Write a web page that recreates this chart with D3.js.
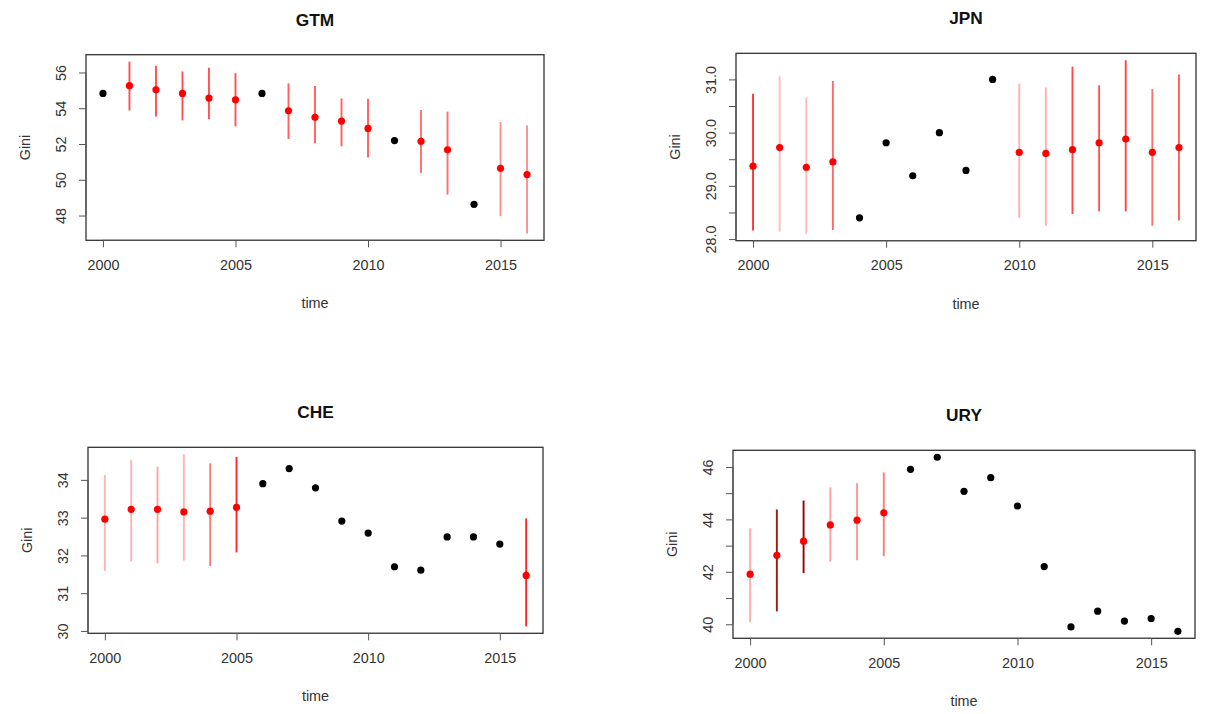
<!DOCTYPE html>
<html>
<head>
<meta charset="utf-8">
<script src="https://cdn.jsdelivr.net/npm/d3@7"></script>
<style>
  html, body { margin: 0; padding: 0; background: #fff; }
  svg { display: block; font-family: "Liberation Sans", Arial, sans-serif; }
</style>
</head>
<body>
<svg id="chart" width="1205" height="714"></svg>
<script>
// ---------------- DATA ----------------
const years = [2000,2001,2002,2003,2004,2005,2006,2007,2008,2009,2010,2011,2012,2013,2014,2015,2016];
const xTicks = [2000, 2005, 2010, 2015];

const gtmGini = [54.83,55.26,55.03,54.83,54.57,54.47,54.83,53.86,53.49,53.28,52.87,52.19,52.15,51.68,48.63,50.64,50.29];
const gtmLow  = [null,53.88,53.54,53.32,53.39,52.99,null,52.28,52.04,51.87,51.24,null,50.38,49.17,null,47.96,47.00];
const gtmHigh = [null,56.61,56.37,56.06,56.26,55.96,null,55.39,55.24,54.55,54.53,null,53.90,53.81,null,53.23,53.03];
const gtmTicks = [48,50,52,54,56];
const gtmTickLabels = ["48","50","52","54","56"];

const jpnGini = [29.37,29.72,29.35,29.45,28.40,29.81,29.19,30.00,29.29,31.00,29.63,29.61,29.68,29.81,29.88,29.63,29.72];
const jpnLow  = [28.16,28.14,28.10,28.17,null,null,null,null,null,null,28.40,28.25,28.47,28.52,28.52,28.25,28.35];
const jpnHigh = [30.73,31.06,30.66,30.97,null,null,null,null,null,null,30.92,30.85,31.24,30.89,31.36,30.82,31.09];
const jpnTicks = [28.0,28.5,29.0,29.5,30.0,30.5,31.0];
const jpnTickLabels = ["28.0","","29.0","","30.0","","31.0"];

const cheGini = [32.96,33.22,33.22,33.15,33.17,33.27,33.90,34.30,33.79,32.91,32.59,31.70,31.61,32.49,32.49,32.30,31.47];
const cheLow  = [31.59,31.84,31.79,31.86,31.72,32.08,null,null,null,null,null,null,null,null,null,null,30.12];
const cheHigh = [34.13,34.53,34.35,34.68,34.44,34.61,null,null,null,null,null,null,null,null,null,null,32.98];
const cheTicks = [30,31,32,33,34];
const cheTickLabels = ["30","31","32","33","34"];

const uryGini = [41.91,42.63,43.17,43.79,43.97,44.25,45.91,46.37,45.07,45.59,44.51,42.20,39.90,40.50,40.12,40.22,39.73];
const uryLow  = [40.08,40.49,41.95,42.39,42.44,42.60,null,null,null,null,null,null,null,null,null,null,null];
const uryHigh = [43.66,44.38,44.72,45.22,45.38,45.79,null,null,null,null,null,null,null,null,null,null,null];
const uryTicks = [40,41,42,43,44,45,46];
const uryTickLabels = ["40","","42","","44","","46"];

// ---------------- STYLE (kept apart from data) ----------------
const gtmBarColor = [null,"#ff5050","#ff5050","#ff5050","#ff5050","#ff5050",null,"#ff6060","#ff6060","#ff6060","#ff6060",null,"#ff6e6e","#ff6e6e",null,"#ff8f8f","#ff8f8f"];
const jpnBarColor = ["#ff3333","#ffbcbc","#ffbcbc","#ff6a6a",null,null,null,null,null,null,"#ffb0b0","#ffb0b0","#ff4a4a","#ff5555","#ff4444","#ff7070","#ff6060"];
const cheBarColor = ["#ffb4b4","#ffb4b4","#ffa4a4","#ffb4b4","#ff7a7a","#ff2a2a",null,null,null,null,null,null,null,null,null,null,"#ff2a2a"];
const uryBarColor = ["#ffacac","#a01818","#9a0000","#ffa0a0","#ff9494","#ff7a7a",null,null,null,null,null,null,null,null,null,null,null];

const panels = [
  { title: "GTM", gini: gtmGini, low: gtmLow, high: gtmHigh, ticks: gtmTicks, labels: gtmTickLabels, barColor: gtmBarColor, box: [86, 54.7, 544, 240.3] },
  { title: "JPN", gini: jpnGini, low: jpnLow, high: jpnHigh, ticks: jpnTicks, labels: jpnTickLabels, barColor: jpnBarColor, box: [736, 53.3, 1196, 240.7] },
  { title: "CHE", gini: cheGini, low: cheLow, high: cheHigh, ticks: cheTicks, labels: cheTickLabels, barColor: cheBarColor, box: [88, 447.3, 543, 633.3] },
  { title: "URY", gini: uryGini, low: uryLow, high: uryHigh, ticks: uryTicks, labels: uryTickLabels, barColor: uryBarColor, box: [733, 450.3, 1195, 638.3] }
];

const svg = d3.select("#chart");
const textCol = "#333";
const FS = 14.4;

function rPad(lo, hi) { const d = (hi - lo) * 0.04; return [lo - d, hi + d]; }

panels.forEach(p => {
  const [x0, y0, x1, y1] = p.box;
  const allVals = p.gini.concat(p.low.filter(v => v != null), p.high.filter(v => v != null));
  const yDom = rPad(d3.min(allVals), d3.max(allVals));
  const xDom = rPad(d3.min(years), d3.max(years));
  const x = d3.scaleLinear().domain(xDom).range([x0, x1]);
  const y = d3.scaleLinear().domain(yDom).range([y1, y0]);

  const g = svg.append("g");

  // error bars
  const rows = years.map((yr, i) => ({ yr, v: p.gini[i], lo: p.low[i], hi: p.high[i], col: p.barColor[i] }));
  g.selectAll("line.err").data(rows.filter(d => d.lo != null)).enter()
    .append("line").attr("class", "err")
    .attr("x1", d => x(d.yr)).attr("x2", d => x(d.yr))
    .attr("y1", d => y(d.lo)).attr("y2", d => y(d.hi))
    .attr("stroke", d => d.col).attr("stroke-width", 1.9);

  // points
  g.selectAll("circle.pt").data(rows).enter()
    .append("circle").attr("class", "pt")
    .attr("cx", d => x(d.yr)).attr("cy", d => y(d.v))
    .attr("r", 3.6)
    .attr("fill", d => d.lo != null ? "#ff0000" : "#000000");

  // box
  g.append("rect").attr("x", x0).attr("y", y0).attr("width", x1 - x0).attr("height", y1 - y0)
    .attr("fill", "none").attr("stroke", "#333").attr("stroke-width", 1.3);

  // x axis
  const xAxis = d3.axisBottom(x).tickValues(xTicks).tickFormat(d3.format("d")).tickSize(7).tickPadding(12);
  const gx = g.append("g").attr("transform", `translate(0,${y1})`).call(xAxis);
  gx.select(".domain").attr("d", `M${x(xTicks[0])},0H${x(xTicks[xTicks.length - 1])}`).attr("stroke", "#555");
  gx.selectAll(".tick line").attr("stroke", "#555");
  gx.selectAll(".tick text").attr("font-size", FS).attr("fill", textCol).attr("font-family", "Liberation Sans, Arial, sans-serif");

  // y axis
  const labelMap = new Map(p.ticks.map((t, i) => [t, p.labels[i]]));
  const yAxis = d3.axisLeft(y).tickValues(p.ticks).tickFormat(t => labelMap.get(t)).tickSize(7);
  const gy = g.append("g").attr("transform", `translate(${x0},0)`).call(yAxis);
  gy.select(".domain").attr("d", `M0,${y(p.ticks[0])}V${y(p.ticks[p.ticks.length - 1])}`).attr("stroke", "#555");
  gy.selectAll(".tick line").attr("stroke", "#555");
  gy.selectAll(".tick text")
    .attr("font-size", FS).attr("fill", textCol).attr("font-family", "Liberation Sans, Arial, sans-serif")
    .attr("x", null).attr("dy", null)
    .attr("text-anchor", "middle")
    .attr("transform", "translate(-25,0) rotate(-90)")
    .attr("dominant-baseline", "central");

  // title
  g.append("text").attr("x", (x0 + x1) / 2).attr("y", y0 - 29)
    .attr("text-anchor", "middle").attr("font-weight", "bold").attr("font-size", 17.3)
    .attr("fill", "#111").text(p.title);

  // axis titles
  g.append("text").attr("x", (x0 + x1) / 2).attr("y", y1 + 68)
    .attr("text-anchor", "middle").attr("font-size", FS).attr("fill", textCol).text("time");
  g.append("text").attr("transform", `translate(${x0 - 56},${(y0 + y1) / 2}) rotate(-90)`)
    .attr("text-anchor", "middle").attr("font-size", FS).attr("fill", textCol).text("Gini");
});
</script>
</body>
</html>
